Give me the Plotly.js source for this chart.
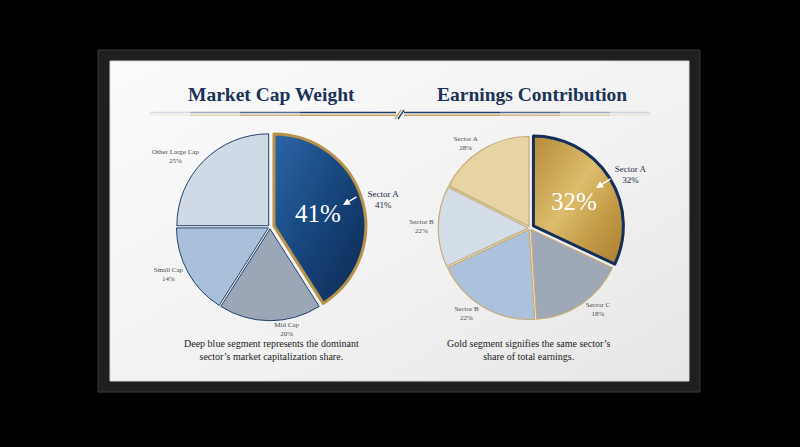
<!DOCTYPE html>
<html>
<head>
<meta charset="utf-8">
<script src="https://cdn.plot.ly/plotly-3.0.1.min.js"></script>
<style>html,body{margin:0;padding:0;background:#000;}#chart{width:800px;height:447px;}</style>
</head>
<body>
<div id="chart"></div>
<script>
// ---- data ----
const leftTitle = 'Market Cap Weight';
const rightTitle = 'Earnings Contribution';
const leftNames = ['Sector A', 'Mid Cap', 'Small Cap', 'Other Large Cap'];
const leftShares = [41, 18, 16, 25];          // slice sizes as drawn
const leftPct = [41, 20, 14, 25];             // printed percentages
const rightNames = ['Sector A', 'Sector C', 'Sector B', 'Sector B', 'Sector A'];
const rightShares = [32, 17, 19, 14.5, 17.5]; // slice sizes as drawn
const rightPct = [32, 18, 22, 22, 28];        // printed percentages
const leftCaption = 'Deep blue segment represents the dominant<br>sector’s market capitalization share.';
const rightCaption = 'Gold segment signifies the same sector’s<br>share of total earnings.';

// ---- styles ----
const W = 800, H = 447;
const px = x => x / W, py = y => 1 - y / H;
const serif = 'Liberation Serif, DejaVu Serif, serif';

const leftColors = ['#17447a', '#9ba6b7', '#aac0da', '#d0d9e6'];
const rightColors = ['#c9a24c', '#9ea8b6', '#abc1dc', '#d4dee9', '#e7d4a5'];

function labelText(names, pct) { return names.map((n, i) => n + '<br>' + pct[i] + '%'); }

const leftTrace = {
  type: 'pie', sort: false, direction: 'clockwise', rotation: 0,
  labels: leftNames.map((n, i) => n + '_' + i),
  values: leftShares,
  text: labelText(leftNames, leftPct),
  texttemplate: '%{text}', textinfo: 'text', textposition: 'outside',
  hoverinfo: 'skip',
  pull: [0.045, 0.02, 0.02, 0.02],
  marker: { colors: leftColors, line: { color: ['#b8924a', '#24426d', '#24426d', '#24426d'], width: [3, 1, 1, 1] } },
  outsidetextfont: { family: serif, size: [9, 7, 7, 7], color: ['#1d2b45', '#4a4a4a', '#4a4a4a', '#4a4a4a'] },
  domain: { x: [px(174), px(366)], y: [py(323), py(131)] },
  showlegend: false
};
const rightTrace = {
  type: 'pie', sort: false, direction: 'clockwise', rotation: 0,
  labels: rightNames.map((n, i) => n + '_' + i),
  values: rightShares,
  text: labelText(rightNames, rightPct),
  texttemplate: '%{text}', textinfo: 'text', textposition: 'outside',
  hoverinfo: 'skip',
  pull: [0.045, 0.02, 0.02, 0.02, 0.02],
  marker: { colors: rightColors, line: { color: ['#14305a', '#c7ab76', '#c7ab76', '#c7ab76', '#c7ab76'], width: [3, 1.2, 1.2, 1.2, 1.2] } },
  outsidetextfont: { family: serif, size: [9, 7, 7, 7, 7], color: ['#1d2b45', '#4a4a4a', '#4a4a4a', '#4a4a4a', '#4a4a4a'] },
  domain: { x: [px(436), px(624)], y: [py(322), py(134)] },
  showlegend: false
};

// frame + decorative rule shapes
const shapes = [
  { type: 'rect', xref: 'paper', yref: 'paper', x0: px(98), x1: px(700), y0: py(392), y1: py(50), fillcolor: '#1f1f1f', line: { color: '#3a3a3a', width: 1 }, layer: 'below' },
  { type: 'rect', xref: 'paper', yref: 'paper', x0: px(110), x1: px(689), y0: py(381), y1: py(61), fillcolor: '#f3f3f3', line: { color: '#d8d8d8', width: 1 }, layer: 'below' }
];
function rule(xa, xb, y, color, op, w) {
  shapes.push({ type: 'line', xref: 'paper', yref: 'paper', x0: px(xa), x1: px(xb), y0: py(y), y1: py(y), line: { color: color, width: w }, opacity: op });
}
const segs = [[150, 190, 0.15], [190, 240, 0.4], [240, 300, 0.75], [300, 396, 1]];
segs.forEach(s => { rule(s[0], s[1], 112.5, '#1f3e6d', s[2], 1.6); rule(s[0], s[1], 115.2, '#c9a35c', s[2], 1.4); });
segs.forEach(s => { rule(800 - s[1], 800 - s[0], 112.5, '#1f3e6d', s[2], 1.6); rule(800 - s[1], 800 - s[0], 115.2, '#c9a35c', s[2], 1.4); });
shapes.push({ type: 'line', xref: 'paper', yref: 'paper', x0: px(395), x1: px(401), y0: py(119), y1: py(110), line: { color: '#c9a35c', width: 1.4 } });
shapes.push({ type: 'line', xref: 'paper', yref: 'paper', x0: px(398), x1: px(404), y0: py(119), y1: py(110), line: { color: '#1f3e6d', width: 1.4 } });

function note(text, x, y, size, color) {
  return { text: text, x: px(x), y: py(y), xref: 'paper', yref: 'paper', xanchor: 'center', yanchor: 'middle', showarrow: false, font: { family: serif, size: size, color: color } };
}
const annotations = [
  note('<b>' + leftTitle + '</b>', 271, 94, 19.5, '#1c3358'),
  note('<b>' + rightTitle + '</b>', 532, 94, 19.5, '#1c3358'),
  note(leftCaption, 271, 350, 10, '#222222'),
  note(rightCaption, 529, 350, 10, '#222222'),
  note(leftPct[0] + '%', 318, 213, 25, '#ffffff'),
  note(rightPct[0] + '%', 574, 201, 25, '#ffffff'),
  { text: '', x: px(343), y: py(205), xref: 'paper', yref: 'paper', showarrow: true, ax: 15, ay: -9, arrowcolor: '#ffffff', arrowwidth: 1.4, arrowhead: 2, arrowsize: 1 },
  { text: '', x: px(596), y: py(188), xref: 'paper', yref: 'paper', showarrow: true, ax: 16, ay: -10, arrowcolor: '#ffffff', arrowwidth: 1.4, arrowhead: 2, arrowsize: 1 }
];

const layout = {
  width: W, height: H, margin: { l: 0, r: 0, t: 0, b: 0 },
  paper_bgcolor: '#000000', plot_bgcolor: '#000000',
  shapes: shapes, annotations: annotations, showlegend: false
};

function addGradients(gd) {
  const svg = gd.querySelector('svg.main-svg');
  if (!svg) return;
  const NS = 'http://www.w3.org/2000/svg';
  let defs = svg.querySelector('defs');
  if (!defs) { defs = document.createElementNS(NS, 'defs'); svg.insertBefore(defs, svg.firstChild); }
  function grad(id, stops, x1, y1, x2, y2) {
    const g = document.createElementNS(NS, 'linearGradient');
    g.setAttribute('id', id);
    g.setAttribute('x1', x1); g.setAttribute('y1', y1); g.setAttribute('x2', x2); g.setAttribute('y2', y2);
    stops.forEach(s => {
      const st = document.createElementNS(NS, 'stop');
      st.setAttribute('offset', s[0]); st.setAttribute('stop-color', s[1]);
      g.appendChild(st);
    });
    defs.appendChild(g);
  }
  grad('gBlue', [['0', '#2b66a6'], ['0.5', '#17457c'], ['1', '#0c2850']], '0', '0', '1', '1');
  grad('gGold', [['0', '#b48b38'], ['0.45', '#dcbd6c'], ['0.7', '#c49c48'], ['1', '#a97f30']], '0', '0', '1', '1');
  grad('gPanel', [['0', '#fbfbfb'], ['0.6', '#f1f1f1'], ['1', '#e6e6e6']], '0', '0', '1', '1');
  const traces = gd.querySelectorAll('g.trace');
  const pieTraces = Array.from(traces).filter(t => t.querySelector('g.slice'));
  const ids = ['gBlue', 'gGold'];
  pieTraces.forEach((t, k) => {
    const first = t.querySelector('g.slice path.surface');
    if (first && ids[k]) first.style.fill = 'url(#' + ids[k] + ')';
  });
  const panelRects = gd.querySelectorAll('.layer-below .shapelayer path');
  if (panelRects[1]) panelRects[1].style.fill = 'url(#gPanel)';
}

Plotly.newPlot('chart', [leftTrace, rightTrace], layout, { staticPlot: true, displayModeBar: false })
  .then(gd => { try { addGradients(gd); } catch (e) {} });
</script>
</body>
</html>
